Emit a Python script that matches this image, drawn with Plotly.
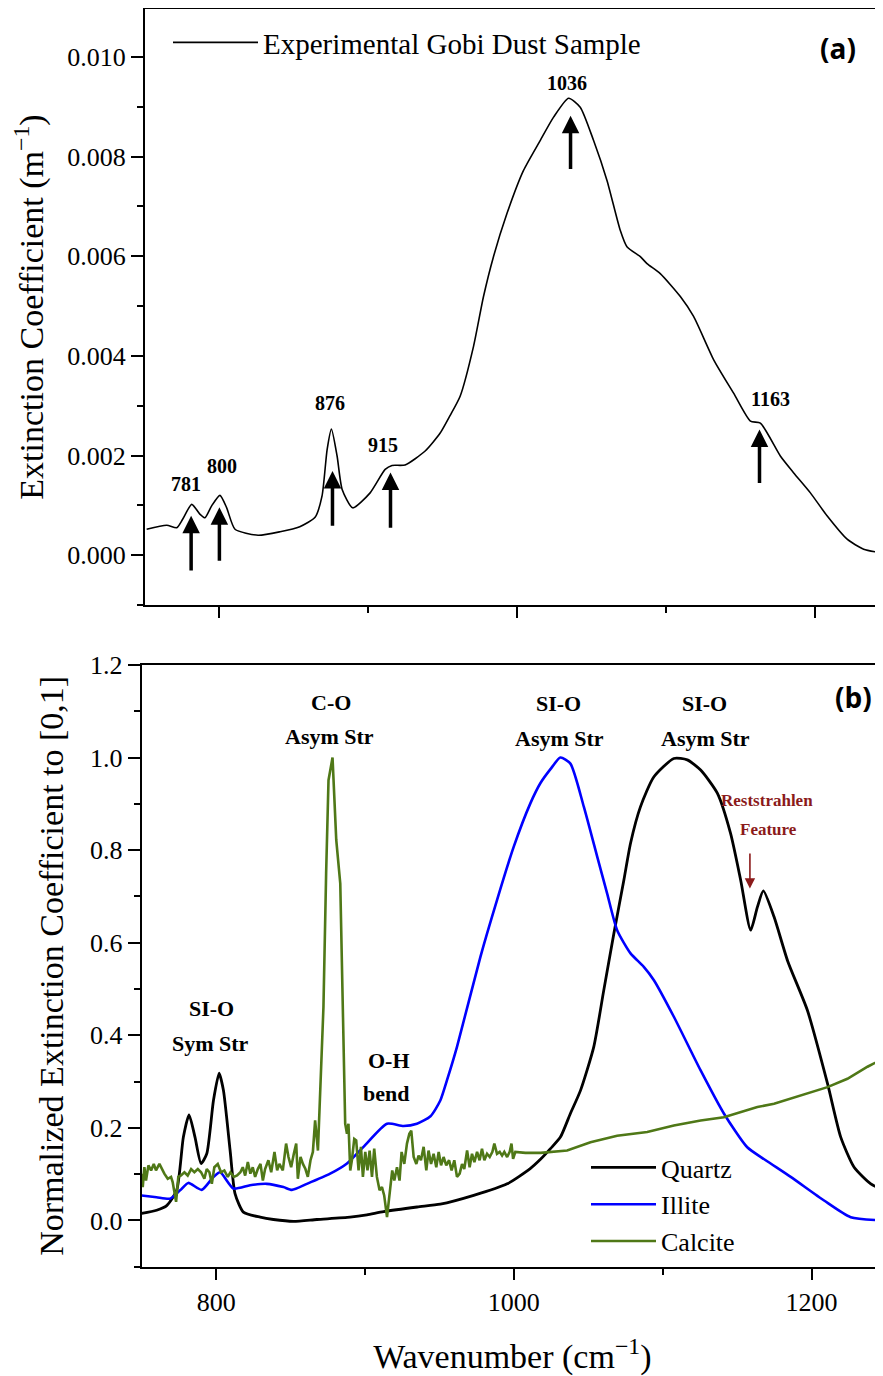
import plotly.graph_objects as go

# ---------------- data ----------------
# (a) Experimental Gobi dust sample, extinction coefficient (m^-1)
gobi_x = [751.1, 764.6, 771.3, 775.3, 781.4, 787.0, 790.3, 794.8, 800.4, 804.9, 810.5, 826.0,
          840.8, 854.0, 864.3, 869.0, 872.4, 875.3, 879.1, 882.5, 889.6, 901.3, 911.4, 916.0,
          924.8, 938.3, 948.4, 955.0, 961.8, 970.8, 977.5, 984.2, 993.2, 1004.4, 1015.6,
          1024.6, 1034.7, 1042.5, 1051.5, 1060.5, 1069.4, 1073.9, 1082.9, 1087.4, 1096.3, 1109.8,
          1118.7, 1132.2, 1145.6, 1156.9, 1163.6, 1177.0, 1186.0, 1197.2, 1208.4, 1221.9, 1233.0,
          1246.0]
gobi_y = [0.00052, 0.00060, 0.00055, 0.00072, 0.00102, 0.00082, 0.00075, 0.00099, 0.00120, 0.00095,
          0.00052, 0.00040, 0.00047, 0.00057, 0.00076, 0.00119, 0.00212, 0.00253, 0.00199, 0.00132,
          0.00095, 0.00125, 0.00172, 0.00180, 0.00181, 0.00209, 0.00245, 0.00280, 0.00319, 0.00419,
          0.00519, 0.00599, 0.00685, 0.00772, 0.00832, 0.00879, 0.00917, 0.00899, 0.00832, 0.00752,
          0.00652, 0.00619, 0.00599, 0.00585, 0.00565, 0.00519, 0.00479, 0.00392, 0.00325, 0.00269,
          0.00265, 0.00199, 0.00165, 0.00125, 0.00079, 0.00032, 0.00012, 0.00004]

# (b) normalized spectra
quartz_x = [750.0, 760.0, 766.8, 773.5, 778.0, 781.8, 785.8, 789.9, 793.7, 798.2, 802.0, 804.9,
            809.4, 812.7, 818.3, 829.6, 838.5, 852.0, 867.7, 890.0, 901.3, 912.5, 935.0, 950.6,
            973.0, 995.5, 1011.0, 1017.9, 1024.6, 1031.3, 1038.0, 1044.8, 1053.7, 1060.4, 1067.2,
            1073.9, 1078.4, 1085.1, 1094.0, 1107.5, 1116.5, 1125.5, 1136.7, 1145.6, 1152.4, 1159.1,
            1163.6, 1167.6, 1174.8, 1184.0, 1197.2, 1210.7, 1219.6, 1228.6, 1239.8, 1248.5]
quartz_y = [0.015, 0.022, 0.032, 0.065, 0.180, 0.228, 0.180, 0.123, 0.144, 0.259, 0.318, 0.281,
            0.151, 0.058, 0.018, 0.007, 0.002, -0.002, 0.002, 0.007, 0.012, 0.019, 0.029, 0.035,
            0.054, 0.079, 0.112, 0.132, 0.155, 0.180, 0.231, 0.281, 0.375, 0.497, 0.620,
            0.735, 0.815, 0.894, 0.958, 0.998, 0.995, 0.973, 0.923, 0.836, 0.735, 0.627,
            0.677, 0.712, 0.656, 0.560, 0.454, 0.296, 0.180, 0.115, 0.079, 0.065]

illite_x = [750.0, 760.0, 769.0, 775.8, 781.3, 790.3, 798.2, 802.7, 811.6, 822.8, 834.0, 845.2,
            850.9, 861.0, 876.6, 887.9, 899.0, 914.8, 925.9, 934.9, 944.0, 950.6, 955.1, 961.8,
            977.5, 988.7, 999.9, 1011.1, 1017.9, 1024.6, 1031.3, 1038.0, 1047.0, 1056.0, 1062.7,
            1069.4, 1078.4, 1087.3, 1094.1, 1107.5, 1125.5, 1141.1, 1156.8, 1169.2, 1186.0, 1208.4,
            1226.3, 1248.5]
illite_y = [0.054, 0.050, 0.047, 0.065, 0.081, 0.066, 0.094, 0.104, 0.069, 0.076, 0.079, 0.072,
            0.066, 0.079, 0.101, 0.123, 0.159, 0.209, 0.204, 0.209, 0.225, 0.259, 0.303, 0.375,
            0.569, 0.692, 0.807, 0.901, 0.945, 0.975, 1.000, 0.987, 0.894, 0.786, 0.706,
            0.627, 0.577, 0.548, 0.519, 0.440, 0.324, 0.231, 0.158, 0.130, 0.094, 0.043,
            0.007, 0.000]

calcite_x = [750.0, 750.7, 751.8, 752.9, 754.5, 756.3, 758.1, 759.6, 761.9, 763.4, 765.2, 767.5,
             769.7, 770.8, 773.1, 774.6, 776.4, 778.7, 780.9, 783.2, 785.4, 787.7, 789.9, 792.1,
             793.7, 795.5, 797.1, 798.8, 801.1, 803.3, 805.5, 807.8, 809.6, 811.9, 814.1, 816.3,
             817.9, 819.5, 821.3, 823.0, 824.6, 826.2, 828.0, 829.8, 831.4, 832.9, 835.1, 837.0,
             839.2, 841.0, 842.5, 844.8, 847.0, 848.6, 850.4, 852.2, 853.8, 854.9, 856.7, 858.3,
             860.0, 861.6, 863.4, 865.0, 866.5, 868.4, 869.4, 872.1, 873.9, 875.5, 878.2, 880.7,
             883.4, 884.5, 885.5, 886.7, 887.9, 888.9, 890.1, 891.2, 892.8, 894.1, 895.7, 897.3,
             898.6, 900.2, 901.7, 903.1, 904.7, 906.2, 908.0, 909.8, 911.4, 912.9, 914.8, 916.5,
             918.3, 919.7, 921.5, 923.2, 924.6, 926.4, 928.2, 929.8, 931.1, 932.7, 934.5, 936.0,
             937.6, 939.4, 941.2, 942.7, 944.4, 946.1, 947.9, 949.5, 951.1, 952.8, 954.6, 956.5,
             958.2, 960.0, 961.8, 963.6, 965.2, 966.7, 968.6, 970.3, 971.9, 973.5, 975.3, 977.0,
             978.6, 980.2, 982.0, 983.8, 985.6, 986.9, 988.7, 990.5, 992.1, 993.6, 995.5, 997.2,
             998.4, 999.5, 1001.0, 1007.8, 1017.9, 1035.8, 1051.5, 1069.4, 1089.6, 1107.5, 1125.5,
             1141.1, 1163.6, 1174.8, 1197.2, 1210.7, 1224.1, 1237.6, 1248.5]
calcite_y = [0.101, 0.072, 0.115, 0.086, 0.119, 0.108, 0.122, 0.108, 0.122, 0.111, 0.101, 0.090,
             0.094, 0.083, 0.040, 0.094, 0.097, 0.104, 0.097, 0.111, 0.104, 0.111, 0.104, 0.090,
             0.111, 0.104, 0.079, 0.115, 0.122, 0.104, 0.108, 0.094, 0.104, 0.094, 0.097, 0.104,
             0.115, 0.097, 0.126, 0.101, 0.115, 0.094, 0.111, 0.122, 0.086, 0.111, 0.130, 0.104,
             0.148, 0.108, 0.122, 0.108, 0.166, 0.137, 0.115, 0.144, 0.166, 0.090, 0.137, 0.122,
             0.111, 0.094, 0.130, 0.148, 0.216, 0.151, 0.245, 0.461, 0.750, 0.951, 1.000, 0.822,
             0.728, 0.533, 0.350, 0.209, 0.187, 0.209, 0.108, 0.130, 0.176, 0.173, 0.108, 0.159,
             0.094, 0.148, 0.108, 0.151, 0.094, 0.155, 0.094, 0.065, 0.072, 0.054, 0.007, 0.050,
             0.108, 0.086, 0.115, 0.086, 0.148, 0.122, 0.166, 0.187, 0.194, 0.137, 0.122, 0.140,
             0.130, 0.159, 0.108, 0.151, 0.122, 0.144, 0.115, 0.148, 0.119, 0.137, 0.119, 0.130,
             0.108, 0.130, 0.094, 0.101, 0.122, 0.111, 0.151, 0.115, 0.144, 0.126, 0.148, 0.130,
             0.155, 0.130, 0.144, 0.137, 0.148, 0.166, 0.144, 0.148, 0.140, 0.148, 0.137, 0.148,
             0.166, 0.133, 0.148, 0.146, 0.146, 0.151, 0.169, 0.183, 0.191, 0.205, 0.216,
             0.223, 0.245, 0.252, 0.274, 0.288, 0.306, 0.332, 0.350]

# peak annotations for panel (a)
peak_wn = [781, 800, 876, 915, 1036, 1163]
peak_labels = ["781", "800", "876", "915", "1036", "1163"]

# ---------------- styling / layout positions ----------------
SERIF = "Liberation Serif"
SANS = "Open Sans"
OFF = 8                      # default page body margin
W, H = 883 - OFF, 1376 - OFF  # figure size that fits the window


def px_x(p):
    """page pixel x -> paper fraction"""
    return min(1.0, max(0.0, (p - OFF) / W))


def px_y(p):
    """page pixel y -> paper fraction"""
    return min(1.0, max(0.0, 1 - (p - OFF) / H))


fig = go.Figure()

fig.add_trace(go.Scatter(x=gobi_x, y=gobi_y, mode="lines", name="Experimental Gobi Dust Sample",
                         line=dict(color="black", width=1.6, shape="spline", smoothing=0.6),
                         xaxis="x", yaxis="y", legend="legend"))
fig.add_trace(go.Scatter(x=quartz_x, y=quartz_y, mode="lines", name="Quartz",
                         line=dict(color="black", width=2.8, shape="spline", smoothing=0.6),
                         xaxis="x2", yaxis="y2", legend="legend2", legendgroup="q"))
fig.add_trace(go.Scatter(x=illite_x, y=illite_y, mode="lines", name="Illite",
                         line=dict(color="#0000FF", width=2.6, shape="spline", smoothing=0.6),
                         xaxis="x2", yaxis="y2", legend="legend2", legendgroup="i"))
fig.add_trace(go.Scatter(x=calcite_x, y=calcite_y, mode="lines", name="Calcite",
                         line=dict(color="#4F7817", width=2.6),
                         xaxis="x2", yaxis="y2", legend="legend2", legendgroup="c"))

tickfont = dict(family=SERIF, size=26, color="black")
titlefont = dict(family=SERIF, size=34, color="black")

common_x = dict(showline=True, linecolor="black", linewidth=2, mirror=True, ticks="outside",
                ticklen=11, tickwidth=1.8, tickcolor="black", showgrid=False, zeroline=False,
                tick0=0, dtick=200, automargin=False,
                minor=dict(ticks="outside", dtick=100, ticklen=6, tickwidth=1.5, tickcolor="black"))
common_y = dict(showline=True, linecolor="black", linewidth=2, mirror=False, ticks="outside",
                ticklen=12, tickwidth=1.8, tickcolor="black", showgrid=False, zeroline=False,
                automargin=False, tickfont=tickfont)

fig.update_layout(
    width=W, height=H, margin=dict(l=0, r=0, t=0, b=0),
    paper_bgcolor="white", plot_bgcolor="white", template="none",
    xaxis=dict(**common_x, domain=[px_x(145), 1.0], range=[750, 1246], anchor="y",
               showticklabels=False),
    yaxis=dict(**common_y, domain=[px_y(605), px_y(9)], range=[-0.001, 0.01096], anchor="x",
               dtick=0.002, tick0=0, tickformat=".3f",
               minor=dict(ticks="outside", dtick=0.001, ticklen=6, tickwidth=1.5, tickcolor="black"),
               title=dict(text="Extinction Coefficient (m<sup>−1</sup>)", font=titlefont, standoff=14)),
    xaxis2=dict(**common_x, domain=[px_x(141.7), 1.0], range=[750, 1248], anchor="y2",
                tickfont=tickfont,
                title=dict(text="Wavenumber (cm<sup>−1</sup>)", font=titlefont, standoff=30)),
    yaxis2=dict(**common_y, domain=[px_y(1266.7), px_y(665)], range=[-0.1, 1.2], anchor="x2",
                dtick=0.2, tick0=0, tickformat=".1f",
                minor=dict(ticks="outside", dtick=0.1, ticklen=6, tickwidth=1.5, tickcolor="black"),
                title=dict(text="Normalized Extinction Coefficient to [0,1]", font=titlefont,
                           standoff=16)),
    legend=dict(x=px_x(168), y=px_y(17), xanchor="left", yanchor="top",
                font=dict(family=SERIF, size=29, color="black"), bgcolor="rgba(0,0,0,0)",
                itemwidth=85),
    legend2=dict(x=px_x(586), y=px_y(1144), xanchor="left", yanchor="top",
                 font=dict(family=SERIF, size=26, color="black"), bgcolor="rgba(0,0,0,0)",
                 itemwidth=65, tracegroupgap=0, traceorder="grouped"),
    showlegend=True,
)

annotations = []
# panel labels
annotations.append(dict(text="<b>(a)</b>", x=px_x(838), y=px_y(48), xref="paper", yref="paper",
                        xanchor="center", yanchor="middle", showarrow=False,
                        font=dict(family=SANS, size=28, color="black")))
annotations.append(dict(text="<b>(b)</b>", x=px_x(853), y=px_y(697), xref="paper", yref="paper",
                        xanchor="center", yanchor="middle", showarrow=False,
                        font=dict(family=SANS, size=28, color="black")))

# panel (a): peak labels and arrows
label_x = [777.4, 801.8, 874.4, 910.1, 1033.6, 1170.3]
label_y = [0.00142, 0.00179, 0.00306, 0.00222, 0.00948, 0.00314]
head_y = [0.00079, 0.00096, 0.00169, 0.00166, 0.00882, 0.00252]
tail_y = [-0.00034, -0.00014, 0.00056, 0.00052, 0.00772, 0.00142]
for wn, lab, lx, ly, hy, ty in zip(peak_wn, peak_labels, label_x, label_y, head_y, tail_y):
    annotations.append(dict(text="<b>%s</b>" % lab, x=lx, y=ly, xref="x", yref="y",
                            showarrow=False, font=dict(family=SERIF, size=20, color="black")))
    annotations.append(dict(text="", x=wn, y=hy, ax=wn, ay=ty, xref="x", yref="y",
                            axref="x", ayref="y", showarrow=True, arrowhead=2, arrowsize=1.0,
                            arrowwidth=3.5, arrowcolor="black"))

# panel (b): band labels
band_labels = [("SI-O", 797.1, 0.458), ("Sym Str", 796.4, 0.382),
               ("C-O", 877.3, 1.118), ("Asym Str", 876.2, 1.045),
               ("O-H", 915.8, 0.346), ("bend", 914.3, 0.274),
               ("SI-O", 1030.2, 1.116), ("Asym Str", 1030.8, 1.041),
               ("SI-O", 1128.3, 1.116), ("Asym Str", 1128.8, 1.041)]
for t, bx, by in band_labels:
    annotations.append(dict(text="<b>%s</b>" % t, x=bx, y=by, xref="x2", yref="y2",
                            showarrow=False, font=dict(family=SERIF, size=22, color="black")))

RED = "#8B1A1A"
annotations.append(dict(text="<b>Reststrahlen</b>", x=1170.3, y=0.908, xref="x2", yref="y2",
                        showarrow=False, font=dict(family=SERIF, size=17, color=RED)))
annotations.append(dict(text="<b>Feature</b>", x=1171.0, y=0.845, xref="x2", yref="y2",
                        showarrow=False, font=dict(family=SERIF, size=17, color=RED)))
annotations.append(dict(text="", x=1158.6, y=0.717, ax=1158.6, ay=0.796, xref="x2", yref="y2",
                        axref="x2", ayref="y2", showarrow=True, arrowhead=2, arrowsize=1.3,
                        arrowwidth=1.6, arrowcolor=RED))

fig.update_layout(annotations=annotations)

fig.write_html("out.html")
